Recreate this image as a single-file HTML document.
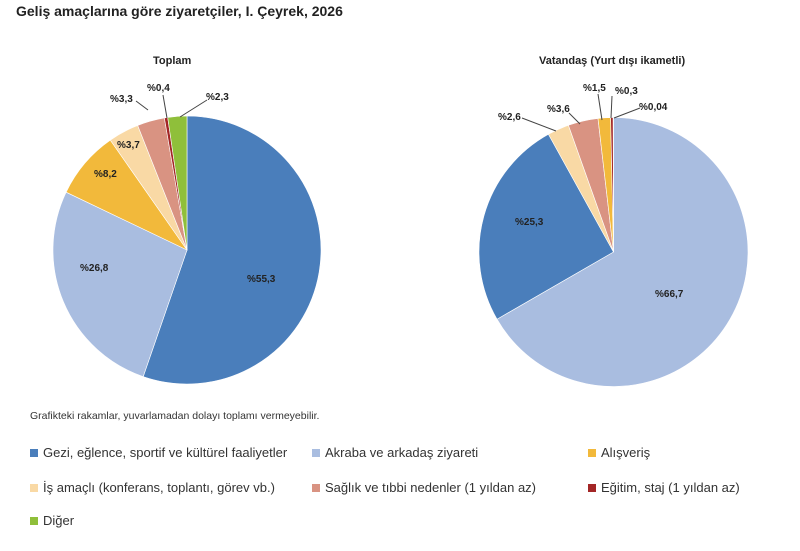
<!DOCTYPE html>
<html><head><meta charset="utf-8"><style>
body{margin:0;background:#fff;width:800px;height:551px;overflow:hidden;font-family:"Liberation Sans",sans-serif;}
.t{position:absolute;white-space:nowrap;color:#222}
.lg{position:absolute;font-size:13px;color:#333;white-space:nowrap}
.lg i{display:inline-block;width:8px;height:8px;margin-right:5px;vertical-align:0px}
</style></head><body>
<div class="t" style="left:16px;top:3px;font-size:14px;font-weight:bold;color:#222">Geliş amaçlarına göre ziyaretçiler, I. Çeyrek, 2026</div>
<div class="t" style="left:153px;top:55px;font-size:11px;font-weight:bold">Toplam</div>
<div class="t" style="left:539px;top:55px;font-size:11px;font-weight:bold">Vatandaş (Yurt dışı ikametli)</div>
<svg id="s" width="800" height="551" style="position:absolute;left:0;top:0"></svg>
<div id="labels" style="font-size:10px;font-weight:bold"></div>
<div class="t" style="left:30px;top:410px;font-size:10.5px;color:#333">Grafikteki rakamlar, yuvarlamadan dolayı toplamı vermeyebilir.</div>
<div class="lg" style="left:30px;top:445px"><i style="background:#4a7ebb"></i>Gezi, eğlence, sportif ve kültürel faaliyetler</div>
<div class="lg" style="left:312px;top:445px"><i style="background:#a9bde0"></i>Akraba ve arkadaş ziyareti</div>
<div class="lg" style="left:588px;top:445px"><i style="background:#f2b93b"></i>Alışveriş</div>
<div class="lg" style="left:30px;top:480px"><i style="background:#f9d9a5"></i>İş amaçlı (konferans, toplantı, görev vb.)</div>
<div class="lg" style="left:312px;top:480px"><i style="background:#d99382"></i>Sağlık ve tıbbi nedenler (1 yıldan az)</div>
<div class="lg" style="left:588px;top:480px"><i style="background:#a32626"></i>Eğitim, staj (1 yıldan az)</div>
<div class="lg" style="left:30px;top:513px"><i style="background:#8fbf3a"></i>Diğer</div>
<script>
var s=document.getElementById('s'),h='';
function pie(cx,cy,r,d){var a=0,tot=0;d.forEach(function(x){tot+=x[0]});
d.forEach(function(x){var a0=a/tot*2*Math.PI;a+=x[0];var a1=a/tot*2*Math.PI;
var x0=cx+r*Math.sin(a0),y0=cy-r*Math.cos(a0),x1=cx+r*Math.sin(a1),y1=cy-r*Math.cos(a1);
h+='<path d="M'+cx+','+cy+'L'+x0+','+y0+'A'+r+','+r+' 0 '+((a1-a0)>Math.PI?1:0)+' 1 '+x1+','+y1+'Z" fill="'+x[1]+'" stroke="#fff" stroke-width="0.6"/>';});}
pie(187,250,134,[[55.3,'#4a7ebb'],[26.8,'#a9bde0'],[8.2,'#f2b93b'],[3.7,'#f9d9a5'],[3.3,'#d99382'],[0.4,'#a32626'],[2.3,'#8fbf3a']]);
pie(613.5,252,134.5,[[66.7,'#a9bde0'],[25.3,'#4a7ebb'],[2.6,'#f9d9a5'],[3.6,'#d99382'],[1.5,'#f2b93b'],[0.3,'#a32626'],[0.04,'#8fbf3a']]);
[[136,101,148,110],[163,95,167,118],[207,100,180,117],[522,118,556,131],[569,113,580,124],[598,94,602,120],[612,96,611,118],[640,108,614,118]].forEach(function(l){
h+='<line x1="'+l[0]+'" y1="'+l[1]+'" x2="'+l[2]+'" y2="'+l[3]+'" stroke="#444" stroke-width="1"/>';});
s.innerHTML=h;
var L=[['%55,3',247,274],['%26,8',80,263],['%8,2',94,169],['%3,7',117,140],['%3,3',110,94],['%0,4',147,83],['%2,3',206,92],
['%25,3',515,217],['%66,7',655,289],['%2,6',498,112],['%3,6',547,104],['%1,5',583,83],['%0,3',615,86],['%0,04',639,102]];
var o='';L.forEach(function(x){o+='<div class="t" style="left:'+x[1]+'px;top:'+x[2]+'px">'+x[0]+'</div>'});
document.getElementById('labels').innerHTML=o;
</script>
</body></html>
